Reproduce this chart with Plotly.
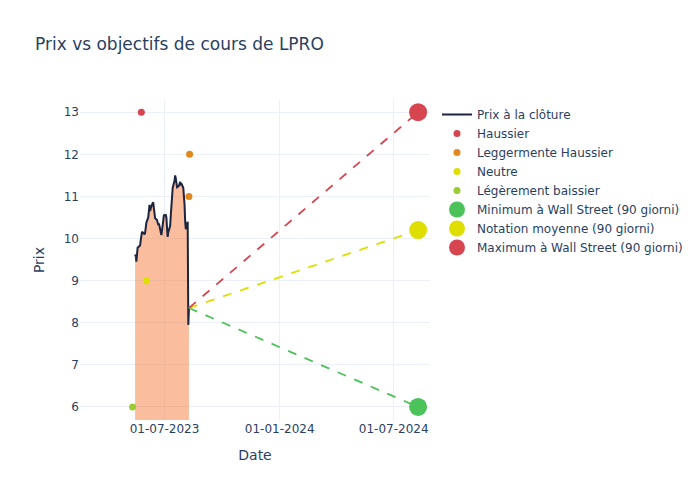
import pandas as pd
import plotly.graph_objects as go

COLOR_CLOSE = "#1c2440"
COLOR_FILL = "rgba(245, 128, 68, 0.52)"
COLOR_BULL = "#d64550"
COLOR_SLIGHT_BULL = "#e08a1e"
COLOR_NEUTRAL = "#dede00"
COLOR_SLIGHT_BEAR = "#9acd32"
COLOR_MIN = "#4cc25a"

# closing prices, one per trading day starting 2023-05-15
close_start = "2023-05-15"
close_prices = [
    9.57, 9.62, 9.45, 9.60, 9.78, 9.82, 9.84, 9.96, 10.05, 10.16,
    10.12, 10.10, 10.14, 10.30, 10.38, 10.50, 10.78, 10.80, 10.65, 10.72,
    10.84, 10.86, 10.72, 10.60, 10.48, 10.44, 10.38, 10.32, 10.36, 10.30,
    10.08, 10.20, 10.35, 10.48, 10.55, 10.56, 10.50, 10.25, 10.04, 10.15,
    10.30, 10.55, 10.85, 11.05, 11.20, 11.38, 11.50, 11.42, 11.30, 11.22,
    11.25, 11.30, 11.35, 11.27, 11.31, 11.20, 11.05, 10.80, 10.40, 10.22,
    10.40, 7.95, 8.35,
]
close_dates = pd.bdate_range(close_start, periods=len(close_prices))

# analyst ratings
bull_dates = ["2023-05-25"]
bull_targets = [13]
slight_bull_dates = ["2023-08-10", "2023-08-09"]
slight_bull_targets = [12, 11]
neutral_dates = ["2023-06-02"]
neutral_targets = [9]
slight_bear_dates = ["2023-05-11"]
slight_bear_targets = [6]

# 90-day consensus, projected one year out
target_date = "2024-08-09"
target_min = 6
target_avg = 10.2
target_max = 13

fig = go.Figure()
# shaded area under the close, kept out of the legend
fig.add_trace(
    go.Scatter(
        x=close_dates,
        y=close_prices,
        mode="lines",
        line=dict(width=0),
        fill="tozeroy",
        fillcolor=COLOR_FILL,
        showlegend=False,
        hoverinfo="skip",
    )
)
fig.add_trace(
    go.Scatter(
        x=close_dates,
        y=close_prices,
        mode="lines",
        name="Prix à la clôture",
        line=dict(color=COLOR_CLOSE, width=2),
    )
)
for name, dates, vals, color in [
    ("Haussier", bull_dates, bull_targets, COLOR_BULL),
    ("Leggermente Haussier", slight_bull_dates, slight_bull_targets, COLOR_SLIGHT_BULL),
    ("Neutre", neutral_dates, neutral_targets, COLOR_NEUTRAL),
    ("Légèrement baissier", slight_bear_dates, slight_bear_targets, COLOR_SLIGHT_BEAR),
]:
    fig.add_trace(
        go.Scatter(
            x=dates,
            y=vals,
            mode="markers",
            name=name,
            marker=dict(color=color, size=7),
        )
    )

last_date = close_dates[-1]
last_price = close_prices[-1]
for name, val, color in [
    ("Minimum à Wall Street (90 giorni)", target_min, COLOR_MIN),
    ("Notation moyenne (90 giorni)", target_avg, COLOR_NEUTRAL),
    ("Maximum à Wall Street (90 giorni)", target_max, COLOR_BULL),
]:
    fig.add_trace(
        go.Scatter(
            x=[last_date, target_date],
            y=[last_price, val],
            mode="lines",
            line=dict(color=color, width=1.8, dash="dash"),
            showlegend=False,
            hoverinfo="skip",
        )
    )
    fig.add_trace(
        go.Scatter(
            x=[target_date],
            y=[val],
            mode="markers",
            name=name,
            marker=dict(color=color, size=18),
        )
    )

fig.update_layout(
    template="plotly_white",
    font=dict(family="DejaVu Sans"),
    title=dict(text="Prix vs objectifs de cours de LPRO", x=0.05, xanchor="left"),
    width=700,
    height=500,
    xaxis=dict(
        title="Date",
        range=["2023-02-16", "2024-08-28"],
        tickformat="%d-%m-%Y",
        dtick="M6",
        tick0="2023-01-01",
    ),
    yaxis=dict(title="Prix", range=[5.69, 13.29], dtick=1),
)

# page without body margin so the figure sits at the window's corner
fig.write_html(
    "out.html",
    config={"displayModeBar": False},
    post_script="document.body.style.margin = '0';",
)
